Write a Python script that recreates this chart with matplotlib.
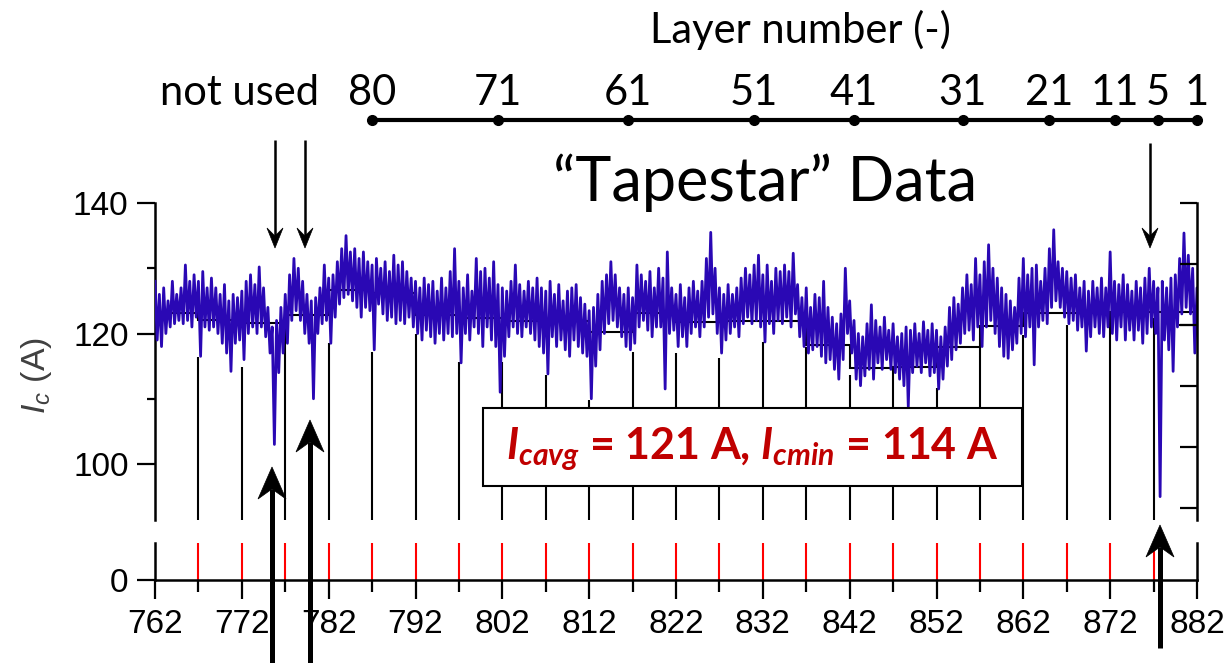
import numpy as np
import matplotlib
matplotlib.use('Agg')
import matplotlib.pyplot as plt
from matplotlib.patches import Polygon, Rectangle
import matplotlib.transforms as mtransforms

# ---------------- data ----------------
# Ic envelope, sampled every 0.5 along the position axis (762 ... 882)
ic_high = [
    128, 126, 127, 125, 128, 126, 127, 130.5, 128, 129, 128, 129.5, 127, 128.5, 127, 126, 127.5, 125, 126, 125.5,
    126.5, 128, 129, 127.5, 130.2, 127, 124, 121, 122, 124, 126, 129, 131.5, 130, 128, 126, 125, 125.5, 127, 130.5,
    128.5, 129, 131, 133, 135, 132.5, 133, 131.5, 132.5, 131, 130.5, 131.5, 130, 131, 129.5, 132, 130.5, 131, 129.5, 128.5,
    128, 127, 128.5, 127.5, 128, 126.5, 128.5, 127, 129.5, 133, 128, 127, 129, 126.5, 131.5, 129.5, 130, 128.5, 131, 127.5,
    127, 126.5, 128, 130.5, 127.5, 126.5, 128, 127, 128.5, 127, 126.5, 128, 126, 127.5, 125, 126.5, 127, 127.5, 125.5, 124.5,
    123.5, 124, 126, 128, 129, 131, 129, 127, 126, 127, 125.5, 130.5, 129, 128, 129.5, 127, 130, 128.5, 132.5, 127,
    126, 127.5, 125.5, 127, 128, 126.5, 128, 131.5, 135.5, 130, 127, 126, 127.5, 126, 127, 128.5, 130, 129, 130.5, 132,
    129, 130.5, 128, 130, 129.5, 130.5, 129.5, 132.3, 127.5, 125.5, 127, 124, 126, 125.5, 128, 124, 122.5, 121.5, 123, 130,
    125, 122, 120, 119.5, 121.5, 124.4, 122, 121, 122.5, 120.5, 121.5, 119.5, 120, 121, 120.5, 121.5, 120, 121.8, 120.5, 121.5,
    120.5, 119.5, 121, 124, 125.5, 124.5, 127, 129, 127.5, 131.5, 129, 131, 133.6, 130, 128.5, 127, 126, 125, 124, 128.5,
    131.5, 129, 130, 130.5, 128, 130, 133, 135.9, 131, 130, 129.5, 128.5, 129, 127, 128, 126.5, 128, 127, 128.5, 127,
    132.5, 128, 127.5, 129, 127.5, 126.5, 128, 127, 128.5, 130, 128, 127, 128, 127, 128.5, 129, 131.5, 135.4, 132, 130,
    127]
ic_low = [
    119, 118, 120, 121, 121.5, 122, 121.5, 122, 121, 122.5, 116.5, 121, 120.5, 121, 120, 118.5, 117, 114.2, 118.5, 119,
    116, 120, 121, 120, 121, 119.5, 117, 103, 114, 117, 118.5, 122, 123.5, 122, 120, 118.5, 110, 120, 121.5, 122,
    118.5, 122.5, 124.5, 125.5, 126, 125, 124, 122.5, 124, 123.5, 117.5, 124.5, 123, 122, 122.5, 121.5, 122, 121.5, 122.5, 121,
    120, 119, 120.5, 119.5, 118.5, 120, 119, 120, 119.5, 120, 115.5, 120, 119, 121, 120, 118, 121, 119, 118, 111,
    116.5, 119.5, 121, 120, 119.5, 121, 120, 119, 118, 117, 113.8, 119.5, 118, 119, 117.5, 116.5, 119, 118, 117, 116.5,
    110, 115, 117.5, 120, 121.5, 122, 121, 119.5, 118, 117.5, 118.5, 121, 122, 120.5, 119.5, 121, 121, 111.5, 120, 120.5,
    118, 119.5, 118, 120, 121, 119.5, 121, 122.5, 123, 120, 117, 119, 120, 121, 119.5, 121.5, 122.5, 121.5, 122, 121,
    118.7, 121.5, 120, 122, 121.5, 122.5, 121, 123, 119.5, 118, 117, 117.5, 118, 116.5, 115.5, 116, 114.5, 113, 116, 120,
    117, 113, 112, 113.5, 114.5, 113, 115.5, 114.5, 116, 114.5, 114, 113, 112, 108.8, 114, 115, 114, 115.5, 113.5, 114,
    111.5, 113, 115, 116, 117.5, 118.5, 120, 120.5, 119, 121, 118, 121, 122, 120, 118, 116.5, 116.2, 117.5, 118.5, 120,
    119.5, 121, 115.2, 121, 122, 121.5, 124, 125, 124, 122.5, 121.5, 122, 120.5, 121, 117.3, 119.5, 121, 120, 119.5, 121,
    120, 119, 121, 119, 120.5, 119, 120.5, 118.5, 120, 121, 120, 95, 119, 117.5, 114.2, 121, 123, 124, 123, 117,
    114.5]

# Segment averages (step line)
segment_edges = [762, 767, 772, 777, 782, 787, 792, 797, 802, 807, 812, 817, 822,
                 827, 832, 837, 842, 847, 852, 857, 862, 867, 872, 877, 882]
segment_avg = [123.1, 122.1, 121.6, 122.8, 126.7, 126.2, 122.8, 122.3, 121.9, 121.9, 120.3, 123.1,
               121.8, 121.9, 121.9, 118.2, 114.7, 114.9, 118.0, 121.2, 123.1, 123.1, 123.3, 123.3]
extra_avg_x = [880, 882]
extra_avg_y = 121.3

# Black boundary lines (top value of each)
boundary_pos = [767, 772, 777, 782, 787, 792, 797, 802, 807, 812, 817, 822,
                827, 832, 837, 842, 847, 852, 857, 862, 867, 872, 877]
boundary_top = [116.4, 114.9, 121.6, 118.5, 117.2, 120.0, 115.7, 115.7, 113.6, 109.8, 117.2, 117.0,
                116.2, 118.7, 118.0, 113.6, 114.9, 111.6, 118.0, 119.8, 121.3, 123.3, 122.3]

# Red markers in the lower panel
marker_pos = [767, 772, 777, 782, 787, 792, 797, 802, 807, 812, 817, 822,
              827, 832, 837, 842, 847, 852, 857, 862, 867, 872, 877]

# Layer-number axis
layer_pos = [787, 801.5, 816.5, 831, 842.5, 855, 865, 872.5, 877.5, 882]
layer_labels = ['80', '71', '61', '51', '41', '31', '21', '11', '5', '1']

x_ticks = [762, 772, 782, 792, 802, 812, 822, 832, 842, 852, 862, 872, 882]
y_ticks_major = [100, 120, 140]
y_ticks_minor = [110, 130]

# ---------------- style ----------------
plt.rcParams['font.family'] = ['Liberation Sans', 'DejaVu Sans']
plt.rcParams['mathtext.fontset'] = 'custom'
plt.rcParams['mathtext.it'] = 'Liberation Sans:italic'
plt.rcParams['mathtext.rm'] = 'Liberation Sans'
plt.rcParams['mathtext.bfit'] = 'Lato:italic:bold'
plt.rcParams['mathtext.bf'] = 'Lato:bold'

W, H = 1226, 663
fig = plt.figure(figsize=(W / 100, H / 100), dpi=100)


def rect(l, t, r, b):
    return [l / W, 1 - b / H, (r - l) / W, (b - t) / H]


BLUE = '#2a08b4'
TXT = '#000000'
SP = 1.8
TICKSIZE = 24

ax = fig.add_axes(rect(155, 203, 1197, 520))
axl = fig.add_axes(rect(155, 543, 1197, 580))

# ---- upper panel ----
y_bot = 140 - 317 / 6.525
ax.set_xlim(762, 882)
ax.set_ylim(y_bot, 140)
for s in ['top', 'bottom', 'right']:
    ax.spines[s].set_visible(False)
ax.spines['left'].set_linewidth(SP)
ax.set_xticks([])
ax.set_yticks(y_ticks_major)
ax.set_yticks(y_ticks_minor, minor=True)
ax.tick_params(axis='y', which='major', direction='out', length=13, width=1.6,
               labelsize=TICKSIZE, pad=6, colors=TXT)
ax.tick_params(axis='y', which='minor', direction='out', length=6, width=1.6, colors=TXT)

ax2 = ax.twinx()
ax2.set_ylim(-0.197, 5)
ax2.set_yticks(range(6))
ax2.set_yticklabels([])
for s in ['top', 'bottom', 'left']:
    ax2.spines[s].set_visible(False)
ax2.spines['right'].set_linewidth(SP)
ax2.tick_params(axis='y', direction='in', length=12, width=1.6, colors=TXT)

ax.stairs(segment_avg, segment_edges, color='k', lw=1.5, zorder=2, baseline=None)
ax.plot(extra_avg_x, [extra_avg_y] * 2, color='k', lw=1.5, zorder=2)
ax.vlines(boundary_pos, y_bot, boundary_top, color='k', lw=1.5, zorder=2)

n = len(ic_high)
xs = np.linspace(762, 882, n)
half = (xs[1] - xs[0]) / 2
zx = np.column_stack([xs, xs + half]).ravel()
zy = np.column_stack([ic_high, ic_low]).ravel()
ax.plot(zx, zy, color=BLUE, lw=2.0, zorder=3)

# ---- lower panel ----
axl.set_xlim(762, 882)
axl.set_ylim(0, 1)
axl.spines['top'].set_visible(False)
for s in ['left', 'right', 'bottom']:
    axl.spines[s].set_linewidth(SP)
axl.set_yticks([0])
axl.set_yticklabels(['0'])
axl.tick_params(axis='y', direction='out', length=13, width=1.6, labelsize=TICKSIZE, pad=6, colors=TXT)
axl.set_xticks(x_ticks)
axl.set_xticks([t + 5 for t in x_ticks[:-1]], minor=True)
axl.tick_params(axis='x', which='major', direction='out', length=14, width=1.6,
                labelsize=TICKSIZE, pad=7, colors=TXT)
axl.tick_params(axis='x', which='minor', direction='out', length=8.5, width=1.6, colors=TXT)
axl.vlines(marker_pos, 0, 1, color='#ff0000', lw=1.5)

# ---- overlay in pixel coordinates ----
ov = fig.add_axes([0, 0, 1, 1], zorder=10)
ov.set_xlim(0, W)
ov.set_ylim(H, 0)
ov.axis('off')
ov.patch.set_alpha(0)

bt = mtransforms.blended_transform_factory(ax.transData, ov.transData)
ov.plot([layer_pos[0], layer_pos[-1]], [120, 120], transform=bt, color='k', lw=3, clip_on=False)
ov.plot(layer_pos, [120] * len(layer_pos), 'o', transform=bt, color='k', ms=7, clip_on=False)
for p, l in zip(layer_pos, layer_labels):
    ov.text(p, 93, l, transform=bt, ha='center', va='center', fontsize=30, family='Lato')

ov.text(240, 93, 'not used', ha='center', va='center', fontsize=30, family='Lato')
ov.text(800, 30, 'Layer number (-)', ha='center', va='center', fontsize=30, family='Lato')
ov.text(765, 183, '\u201cTapestar\u201d Data', ha='center', va='center', fontsize=44, family='Lato')

ov.add_patch(Rectangle((483, 408), 539, 78, fc='white', ec='k', lw=1.5, zorder=5))
ov.text(752, 449, r'$\mathbfit{I}_{\mathbfit{cavg}}$ = 121 A, $\mathbfit{I}_{\mathbfit{cmin}}$ = 114 A',
        color='#c00000', fontsize=31, family='Lato', weight='bold', ha='center', va='center', zorder=6)

ov.text(36, 376, r'$I_c$ (A)', rotation=90, ha='center', va='center', fontsize=24.5, color='#404040')


def arrow(x, y0, y1, lw, L, Wd, notch):
    d = np.sign(y1 - y0)
    base = y1 - d * L
    ov.plot([x, x], [y0, base + d * notch], color='k', lw=lw, solid_capstyle='butt', clip_on=False)
    ov.add_patch(Polygon([[x, y1], [x - Wd / 2, base], [x, base + d * notch], [x + Wd / 2, base]],
                         closed=True, fc='k', ec='k', lw=0.5, clip_on=False))


arrow(275, 140, 248, 1.8, 20, 16, 8)
arrow(305, 140, 248, 1.8, 20, 16, 8)
arrow(1150, 143, 248, 1.8, 20, 16, 8)
arrow(272, 663, 467, 3.6, 32, 28, 10)
arrow(310, 663, 420, 3.6, 32, 28, 10)
arrow(1160, 648, 525, 3.6, 32, 28, 10)

fig.savefig('out.png', dpi=100)
